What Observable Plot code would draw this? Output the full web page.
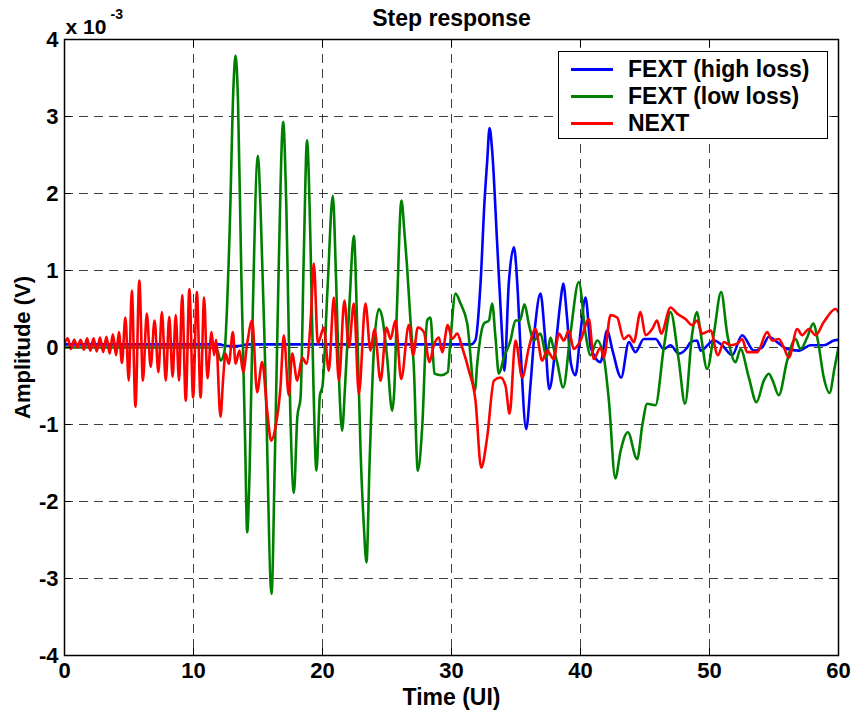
<!DOCTYPE html>
<html>
<head>
<meta charset="utf-8">
<script src="https://cdn.jsdelivr.net/npm/d3@7"></script>
<script src="https://cdn.jsdelivr.net/npm/@observablehq/plot@0.6"></script>
<style>
  html, body { margin: 0; padding: 0; background: #fff; }
  #wrap { position: relative; width: 852px; height: 713px; font-family: "Liberation Sans", Arial, sans-serif; }
  #wrap svg { display: block; }
  #legend { position: absolute; left: 558px; top: 51px; width: 268px; height: 86px; background: #fff; border: 1.5px solid #000; box-sizing: content-box; }
  .row { position: absolute; left: 0; height: 26px; display: flex; align-items: center; }
  .swatch { width: 42px; height: 3px; margin-left: 12px; margin-right: 15px; }
  .lab { font-size: 23px; font-weight: bold; color: #000; white-space: nowrap; }
</style>
</head>
<body>
<div id="wrap"></div>
<script>
// ---- data (amplitudes in units of 1e-3 V) ----
const title = "Step response";
const xLabel = "Time (UI)";
const yLabel = "Amplitude (V)";
const seriesNames = ["FEXT (high loss)", "FEXT (low loss)", "NEXT"];
const seriesColors = ["#0000ff", "#008000", "#ff0000"];
const xTicks = [0, 10, 20, 30, 40, 50, 60];
const yTicks = [-4, -3, -2, -1, 0, 1, 2, 3, 4];

const fextHigh = [
  [0,0.04],[5,0.04],[12,0.04],[12.6,0.02],[13.5,0.02],[14.2,0.04],[20,0.04],[25,0.04],[31.5,0.04],[31.86,0.1],
  [32.25,0.83],[32.56,1.9],[32.77,2.43],[32.95,2.85],[33.15,2.56],[33.54,1.35],[33.93,0.13],[34.1,-0.3],
  [34.44,0.83],[34.84,1.3],[35.1,0.83],[35.36,-0.04],[35.79,-1.06],[36.13,-0.47],[36.5,0.31],[36.9,0.7],
  [37.23,0.18],[37.58,-0.54],[38.06,0.0],[38.45,0.6],[38.66,0.83],[38.95,0.4],[39.25,-0.2],[39.61,-0.36],
  [40.0,0.2],[40.39,0.65],[40.8,0.0],[41.55,-0.19],[42.06,0.22],[42.5,-0.05],[43.15,-0.39],[43.75,0.07],
  [44.26,-0.06],[44.91,0.11],[45.81,0.11],[46.46,-0.02],[46.98,0.03],[47.62,-0.08],[48.27,0.0],[48.53,0.07],
  [49.04,0.09],[49.3,-0.04],[50.34,0.09],[50.98,0.03],[51.76,-0.1],[52.53,0.16],[53.44,-0.04],[54.08,0.0],
  [54.6,0.14],[55.24,0.07],[56.02,-0.02],[56.93,-0.04],[57.83,0.03],[58.86,0.03],[59.64,0.09],[60,0.1]
];

const fextLow = [
  [0,0.0],[5,0.0],[11,0.0],[11.8,-0.02],[12.1,-0.17],[12.4,-0.05],[12.8,1.5],[13.1,3.4],[13.26,3.79],[13.45,3.2],
  [13.7,1.0],[14.0,-1.2],[14.16,-2.4],[14.35,-1.6],[14.6,0.5],[14.99,2.49],[15.2,1.8],[15.6,-0.5],[16.05,-3.2],
  [16.3,-1.5],[16.6,1.0],[16.95,2.93],[17.2,1.8],[17.5,-0.8],[17.78,-1.89],[18.05,-0.9],[18.3,-0.65],[18.55,1.2],
  [18.8,2.69],[19.05,1.5],[19.3,-0.5],[19.53,-1.6],[19.8,-0.62],[20.0,-0.5],[20.4,0.8],[20.8,1.97],[21.05,0.9],
  [21.3,-0.5],[21.52,-1.08],[21.75,-0.5],[22.1,0.6],[22.43,1.45],[22.7,0.2],[22.95,-1.34],[23.2,-2.3],[23.41,-2.79],
  [23.65,-1.5],[23.98,-0.04],[24.36,0.5],[24.62,0.4],[25.01,-0.13],[25.4,-0.82],[25.55,-0.6],[25.79,0.61],
  [26.12,1.91],[26.35,1.5],[26.56,1.04],[26.8,0.4],[27.08,-0.26],[27.39,-1.6],[27.73,-1.03],[28.11,0.35],
  [28.37,0.39],[28.68,-0.34],[29.2,-0.36],[29.71,-0.32],[29.9,0.05],[30.31,0.7],[30.7,0.57],[31.22,0.31],
  [31.81,-0.56],[32.0,-0.2],[32.51,0.31],[32.9,0.35],[33.15,0.57],[33.41,0.13],[33.67,-0.34],[34.06,-0.13],
  [34.57,0.09],[34.96,0.35],[35.3,0.35],[35.66,0.56],[36.0,0.3],[36.38,0.09],[36.9,0.18],[37.37,-0.13],
  [37.67,0.13],[37.9,0.0],[38.2,-0.2],[38.66,-0.52],[39.22,0.18],[39.87,0.85],[40.39,0.18],[40.78,-0.1],
  [41.29,0.09],[41.81,-0.13],[42.2,-0.69],[42.7,-1.7],[43.1,-1.35],[43.67,-1.1],[44.39,-1.45],[44.8,-1.0],
  [45.17,-0.73],[45.81,-0.75],[46.46,0.0],[46.98,0.46],[47.62,-0.17],[48.1,-0.73],[48.66,0.18],[49.04,0.46],
  [49.3,0.2],[49.82,-0.28],[50.34,0.18],[50.9,0.72],[51.37,0.18],[52.02,-0.19],[52.4,-0.02],[53.05,-0.39],
  [53.64,-0.71],[54.21,-0.43],[54.6,-0.34],[54.9,-0.43],[55.37,-0.62],[56.02,-0.17],[56.67,0.11],[57.05,-0.02],
  [57.57,0.13],[58.04,0.31],[58.4,0.09],[58.86,-0.39],[59.3,-0.59],[59.7,-0.26],[60,0.0]
];

const next = [
  [0,0.05],[0.25,0.12],[0.5,-0.02],[0.75,0.1],[1.0,0.0],[1.25,0.1],[1.5,-0.03],[1.75,0.12],[2.0,-0.04],
  [2.25,0.12],[2.5,-0.05],[2.75,0.13],[3.0,-0.06],[3.25,0.14],[3.5,-0.08],[3.75,0.17],[4.0,-0.1],[4.22,0.2],
  [4.45,-0.2],[4.72,0.39],[4.98,-0.43],[5.22,0.74],[5.5,-0.77],[5.8,0.87],[6.08,-0.43],[6.38,0.44],[6.68,-0.25],
  [6.98,0.35],[7.28,-0.32],[7.55,0.46],[7.85,-0.43],[8.12,0.4],[8.38,-0.38],[8.62,0.42],[8.88,-0.43],[9.12,0.68],
  [9.4,-0.69],[9.68,0.76],[9.97,-0.65],[10.26,0.72],[10.55,-0.65],[10.82,0.65],[11.08,-0.4],[11.4,0.2],
  [11.6,-0.1],[11.75,0.1],[12.09,-0.9],[12.3,-0.4],[12.48,-0.08],[12.74,-0.21],[13.05,0.2],[13.26,-0.21],
  [13.57,-0.04],[13.85,-0.32],[14.16,0.05],[14.55,0.35],[14.93,-0.58],[15.32,-0.19],[15.71,-0.82],[16.02,-1.21],
  [16.36,-1.03],[16.74,-0.52],[17.0,0.16],[17.39,-0.62],[17.65,-0.08],[18.04,-0.43],[18.43,-0.13],[18.76,-0.21],
  [19.1,0.4],[19.33,1.09],[19.64,0.05],[20.1,0.26],[20.49,-0.3],[20.88,0.65],[21.27,-0.43],[21.7,0.61],
  [22.04,0.0],[22.43,0.57],[22.82,-0.6],[23.33,0.57],[23.72,-0.04],[24.03,0.24],[24.5,-0.43],[24.96,0.26],
  [25.27,0.11],[25.66,0.35],[26.1,-0.41],[26.69,0.29],[27.03,-0.1],[27.39,0.26],[27.86,0.2],[28.29,-0.19],
  [28.63,0.03],[29.02,0.13],[29.28,-0.06],[29.71,0.29],[30.05,0.11],[30.44,0.18],[30.83,0.0],[31.35,-0.3],
  [31.86,-0.69],[32.3,-1.56],[32.77,-1.16],[33.29,-0.43],[33.8,-0.39],[34.19,-0.5],[34.5,-0.86],[34.96,0.09],
  [35.48,-0.39],[36.0,0.0],[36.51,0.24],[37.03,-0.17],[37.41,-0.04],[37.93,-0.15],[38.32,0.18],[38.71,0.09],
  [39.09,0.22],[39.48,-0.02],[40.0,0.09],[40.65,0.37],[41.03,-0.15],[41.55,0.0],[41.81,-0.13],[42.33,0.42],
  [42.84,0.39],[43.36,0.11],[43.75,0.16],[44.13,0.07],[44.65,0.46],[45.04,0.16],[45.56,0.24],[45.94,0.35],
  [46.25,0.18],[46.98,0.52],[47.49,0.44],[48.14,0.37],[48.66,0.29],[49.04,0.35],[49.43,0.18],[50.08,0.22],
  [50.65,-0.1],[51.12,0.07],[51.63,0.03],[52.15,0.05],[52.53,0.11],[52.92,-0.06],[53.7,-0.06],[54.47,0.2],
  [54.86,0.09],[55.37,0.11],[55.76,0.0],[56.15,-0.13],[56.8,0.24],[57.18,0.16],[57.7,0.24],[58.22,0.16],
  [58.86,0.33],[59.77,0.5],[60,0.46]
];

// ---- build ----
const seriesData = [fextHigh, fextLow, next];
const lines = seriesData.map((arr, i) =>
  Plot.line(arr, {x: d => d[0], y: d => d[1], stroke: seriesColors[i], strokeWidth: 2.6, curve: "monotone-x", clip: true})
);

const gridStyle = {stroke: "#000", strokeOpacity: 0.75, strokeWidth: 1, strokeDasharray: "9,6"};

const chart = Plot.plot({
  width: 852,
  height: 713,
  marginLeft: 64,
  marginRight: 14,
  marginTop: 39,
  marginBottom: 58,
  style: {fontFamily: "'Liberation Sans', Arial, sans-serif", fontWeight: "bold", background: "#fff", color: "#000"},
  x: {domain: [0, 60]},
  y: {domain: [-4, 4]},
  marks: [
    Plot.gridX(xTicks, gridStyle),
    Plot.gridY(yTicks, gridStyle),
    ...lines,
    Plot.frame({stroke: "#000", strokeWidth: 1.5}),
    Plot.axisX(xTicks, {anchor: "bottom", tickSize: -7, tickPadding: 14, fontSize: 22, fontWeight: "bold", label: null, tickFormat: d => String(d)}),
    Plot.axisX(xTicks, {anchor: "top", tickSize: -7, text: null, label: null}),
    Plot.axisY(yTicks, {anchor: "left", tickSize: -7, tickPadding: 13, fontSize: 22, fontWeight: "bold", label: null, tickFormat: d => String(d)}),
    Plot.axisY(yTicks, {anchor: "right", tickSize: -7, text: null, label: null}),
    Plot.text([title], {frameAnchor: "top", dy: -14, lineAnchor: "bottom", fontSize: 23, fontWeight: "bold"}),
    Plot.text(["x 10"], {frameAnchor: "top-left", dx: 1, dy: -6, textAnchor: "start", lineAnchor: "bottom", fontSize: 21, fontWeight: "bold"}),
    Plot.text(["-3"], {frameAnchor: "top-left", dx: 46, dy: -21, textAnchor: "start", lineAnchor: "bottom", fontSize: 14, fontWeight: "bold"}),
    Plot.text([xLabel], {frameAnchor: "bottom", dy: 49, lineAnchor: "bottom", fontSize: 23, fontWeight: "bold"}),
    Plot.text([yLabel], {frameAnchor: "left", dx: -42, rotate: -90, textAnchor: "middle", lineAnchor: "middle", fontSize: 22, fontWeight: "bold"})
  ]
});

const wrap = document.getElementById("wrap");
wrap.appendChild(chart);

// legend (overlay inside the axes box)
const legend = document.createElement("div");
legend.id = "legend";
seriesNames.forEach((name, i) => {
  const row = document.createElement("div");
  row.className = "row";
  row.style.top = (4 + i * 27) + "px";
  const sw = document.createElement("div");
  sw.className = "swatch";
  sw.style.background = seriesColors[i];
  const lab = document.createElement("span");
  lab.className = "lab";
  lab.textContent = name;
  row.appendChild(sw);
  row.appendChild(lab);
  legend.appendChild(row);
});
wrap.appendChild(legend);
</script>
</body>
</html>
